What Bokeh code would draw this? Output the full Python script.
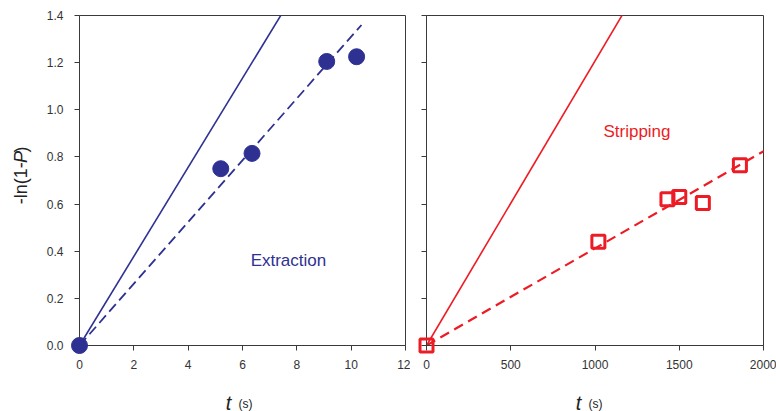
import numpy as np
from bokeh.plotting import figure
from bokeh.layouts import row, column
from bokeh.models import Range1d, FixedTicker, NumeralTickFormatter
from bokeh.core.properties import value
from bokeh.embed import file_html
from bokeh.resources import INLINE

# ---- data ----
ext_t = [0.0, 5.2, 6.35, 9.1, 10.2]
ext_y = [0.0, 0.75, 0.815, 1.205, 1.225]
ext_fit_slope = 0.131
ext_theory_slope = 0.189
ext_fit_tmax = 10.38

str_t = [0, 1020, 1430, 1500, 1640, 1860]
str_y = [0.0, 0.44, 0.62, 0.63, 0.605, 0.765]
str_fit_slope = 0.000412
str_theory_slope = 0.001207
str_fit_tmax = 2016

y_ticks = [0.0, 0.2, 0.4, 0.6, 0.8, 1.0, 1.2, 1.4]
ext_x_ticks = [0, 2, 4, 6, 8, 10, 12]
str_x_ticks = [0, 500, 1000, 1500, 2000]

BLUE = "#2E3192"
RED = "#ED1C24"
FONT = "Liberation Sans"
AX = "#3a3a3a"
LBL = "#222222"

TOP_H = 376
BOT_H = 411 - TOP_H
YW = 40


def style(p, xticks):
    p.xaxis.ticker = FixedTicker(ticks=xticks)
    p.yaxis.ticker = FixedTicker(ticks=y_ticks)
    for ax in [p.xaxis[0], p.yaxis[0]]:
        ax.axis_line_color = AX
        ax.major_tick_line_color = AX
        ax.minor_tick_line_color = None
        ax.major_tick_out = 5
        ax.major_tick_in = 0
        ax.major_label_text_font = FONT
        ax.major_label_text_font_size = "12px"
        ax.major_label_text_color = "#333333"
    p.xaxis.major_label_standoff = 9
    p.yaxis.major_label_standoff = 11
    p.grid.visible = False
    p.outline_line_color = AX
    p.background_fill_color = "white"
    p.border_fill_color = "white"


def text_fig(w, h):
    f = figure(width=w, height=h, output_backend="svg", toolbar_location=None,
               title=None,
               x_range=Range1d(0, w), y_range=Range1d(0, h),
               x_axis_location=None, y_axis_location=None,
               min_border=0, min_border_left=0, min_border_right=0,
               min_border_top=0, min_border_bottom=0)
    f.grid.visible = False
    f.outline_line_color = None
    f.background_fill_color = "white"
    f.border_fill_color = "white"
    return f


def txt(f, x, y, s, size, style="normal", color=LBL, angle=0.0, align="left",
        baseline="alphabetic"):
    f.text(x=[x], y=[y], text=[s], text_font=value(FONT), text_font_size=value(size),
           text_font_style=style, text_color=color, angle=angle,
           text_align=align, text_baseline=baseline)


# ---- left: extraction ----
p1 = figure(width=410 - YW, height=TOP_H, output_backend="svg", toolbar_location=None,
            x_range=Range1d(0, 12), y_range=Range1d(0, 1.4),
            min_border_left=79 - YW, min_border_right=5, min_border_top=15,
            min_border_bottom=TOP_H - 15 - 330)
style(p1, ext_x_ticks)
p1.yaxis.formatter = NumeralTickFormatter(format="0.0")

tt = np.array([0, 8.0])
p1.line(tt, ext_theory_slope * tt, line_color=BLUE, line_width=1.6)
tf = np.array([0, ext_fit_tmax])
p1.line(tf, ext_fit_slope * tf, line_color=BLUE, line_width=1.8, line_dash="10 5")
p1.scatter(ext_t, ext_y, size=16, marker="circle", fill_color=BLUE, line_color=BLUE,
           level="overlay")
txt(p1, 6.3, 0.36, "Extraction", "17px", color=BLUE, baseline="middle")

# ---- right: stripping ----
p2 = figure(width=366, height=TOP_H, output_backend="svg", toolbar_location=None,
            x_range=Range1d(0, 2000), y_range=Range1d(0, 1.4),
            min_border_left=16, min_border_right=13, min_border_top=13,
            min_border_bottom=TOP_H - 13 - 334)
style(p2, str_x_ticks)
p2.yaxis.major_label_overrides = {t: "" for t in y_ticks}

ts = np.array([0, 1300.0])
p2.line(ts, str_theory_slope * ts, line_color=RED, line_width=1.6)
tsf = np.array([0, str_fit_tmax])
p2.line(tsf, str_fit_slope * tsf, line_color=RED, line_width=2.2, line_dash="10 6")
p2.scatter(str_t, str_y, size=13, marker="square", fill_color="white", fill_alpha=0.0,
           line_color=RED, line_width=3, level="overlay")
txt(p2, 1050, 0.91, "Stripping", "17px", color=RED, baseline="middle")

# ---- axis titles ----
yfig = text_fig(YW, TOP_H)
y0 = TOP_H - 215
txt(yfig, 20, y0, "-ln(1- ", "18px", angle=np.pi / 2, baseline="middle")
txt(yfig, 20, y0 + 47, "P", "18px", style="italic", angle=np.pi / 2, baseline="middle")
txt(yfig, 20, y0 + 59, ")", "18px", angle=np.pi / 2, baseline="middle")

xfig1 = text_fig(410, BOT_H)
txt(xfig1, 228, 9, "t", "20px", style="italic", align="center")
txt(xfig1, 238, 8, "(s)", "12px")

xfig2 = text_fig(366, BOT_H)
txt(xfig2, 168, 9, "t", "20px", style="italic", align="center")
txt(xfig2, 178, 8, "(s)", "12px")

layout = column(row(yfig, p1, p2), row(xfig1, xfig2))
open("out.html", "w").write(file_html(layout, INLINE))
